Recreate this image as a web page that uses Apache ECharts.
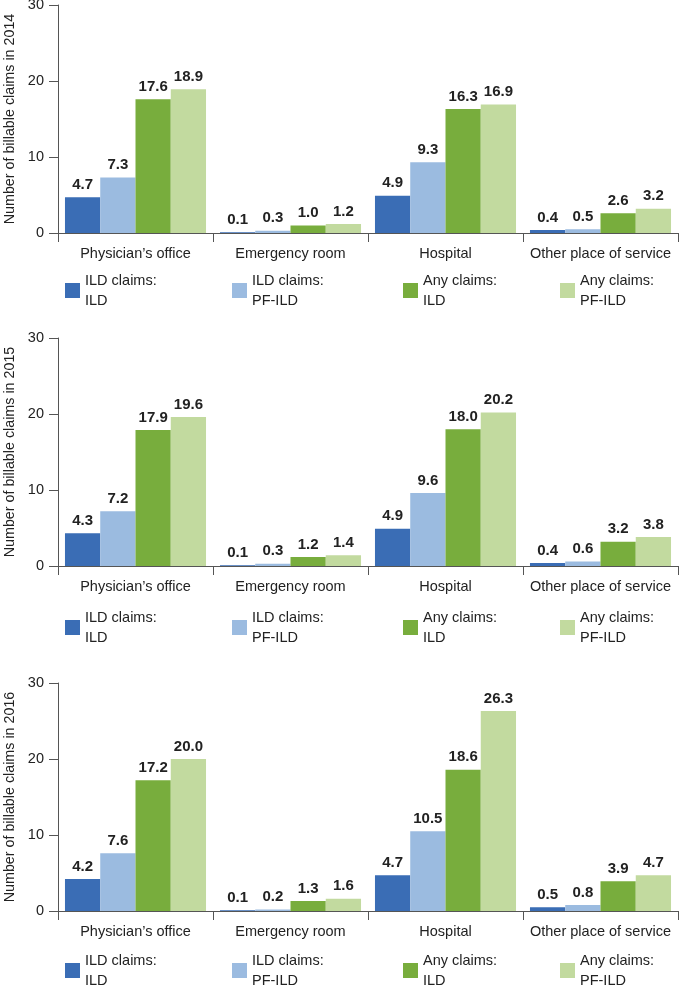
<!DOCTYPE html>
<html>
<head>
<meta charset="utf-8">
<script src="https://cdn.jsdelivr.net/npm/echarts@6/dist/echarts.min.js"></script>
<style>
html,body{margin:0;padding:0;background:#fff;}
#chart{width:685px;height:1004px;}
</style>
</head>
<body>
<div id="chart"></div>
<script>
const categories = ["Physician\u2019s office", "Emergency room", "Hospital", "Other place of service"];
const seriesNames = ["ILD claims:\nILD", "ILD claims:\nPF-ILD", "Any claims:\nILD", "Any claims:\nPF-ILD"];
const years = ["2014", "2015", "2016"];
const yTicks = [0, 10, 20, 30];

const ild2014 = [4.7, 0.1, 4.9, 0.4];
const pfild2014 = [7.3, 0.3, 9.3, 0.5];
const anyIld2014 = [17.6, 1.0, 16.3, 2.6];
const anyPfild2014 = [18.9, 1.2, 16.9, 3.2];

const ild2015 = [4.3, 0.1, 4.9, 0.4];
const pfild2015 = [7.2, 0.3, 9.6, 0.6];
const anyIld2015 = [17.9, 1.2, 18.0, 3.2];
const anyPfild2015 = [19.6, 1.4, 20.2, 3.8];

const ild2016 = [4.2, 0.1, 4.7, 0.5];
const pfild2016 = [7.6, 0.2, 10.5, 0.8];
const anyIld2016 = [17.2, 1.3, 18.6, 3.9];
const anyPfild2016 = [20.0, 1.6, 26.3, 4.7];

const dataByYear = [
  [ild2014, pfild2014, anyIld2014, anyPfild2014],
  [ild2015, pfild2015, anyIld2015, anyPfild2015],
  [ild2016, pfild2016, anyIld2016, anyPfild2016]
];

const colors = ["#3a6db5", "#9bbbe0", "#78ad3d", "#c2da9f"];
const gridTops = [5, 338, 683];
const gridHeight = 228;
const legendIconTops = [283, 620, 963];
const legendLefts = [65, 232, 403, 560];
const axisColor = "#555";
const textColor = "#222";
const font = "Liberation Sans, Arial, sans-serif";

const grids = [], xAxes = [], yAxes = [], series = [], legends = [];
years.forEach((yr, gi) => {
  grids.push({left: 58, right: 7, top: gridTops[gi], height: gridHeight, containLabel: false, outerBoundsMode: 'none'});
  xAxes.push({
    type: 'category', gridIndex: gi, data: categories,
    axisLine: {lineStyle: {color: axisColor, width: 1}},
    axisTick: {show: true, length: 9, lineStyle: {color: axisColor}},
    axisLabel: {color: textColor, fontSize: 14.5, fontFamily: font, margin: 13, interval: 0}
  });
  yAxes.push({
    type: 'value', gridIndex: gi, min: yTicks[0], max: yTicks[yTicks.length - 1], interval: 10,
    name: 'Number of billable claims in ' + yr,
    nameLocation: 'middle', nameGap: 40,
    nameTextStyle: {color: textColor, fontSize: 14.3, fontFamily: font},
    axisLine: {show: true, lineStyle: {color: axisColor}},
    axisTick: {show: true, length: 9, lineStyle: {color: axisColor}},
    splitLine: {show: false},
    axisLabel: {color: textColor, fontSize: 14.5, fontFamily: font, margin: 14}
  });
  seriesNames.forEach((nm, si) => {
    series.push({
      type: 'bar', name: nm, xAxisIndex: gi, yAxisIndex: gi,
      data: dataByYear[gi][si],
      barGap: '0%', barCategoryGap: '9%',
      itemStyle: {color: colors[si]},
      label: {
        show: true, position: 'top', distance: 5,
        color: textColor, fontSize: 15, fontWeight: 'bold', fontFamily: font,
        formatter: p => Number(p.value).toFixed(1)
      }
    });
  });
  seriesNames.forEach((nm, si) => {
    legends.push({
      data: [nm], left: legendLefts[si], top: legendIconTops[gi] - 22.5,
      padding: 0, itemWidth: 15, itemHeight: 15, selectedMode: false,
      icon: 'rect',
      textStyle: {color: textColor, fontSize: 14.5, fontFamily: font, lineHeight: 20, padding: [20, 0, 0, 0]}
    });
  });
});

const chart = echarts.init(document.getElementById('chart'), null, {renderer: 'canvas'});
chart.setOption({
  animation: false,
  color: colors,
  grid: grids, xAxis: xAxes, yAxis: yAxes, series: series, legend: legends
});
</script>
</body>
</html>
